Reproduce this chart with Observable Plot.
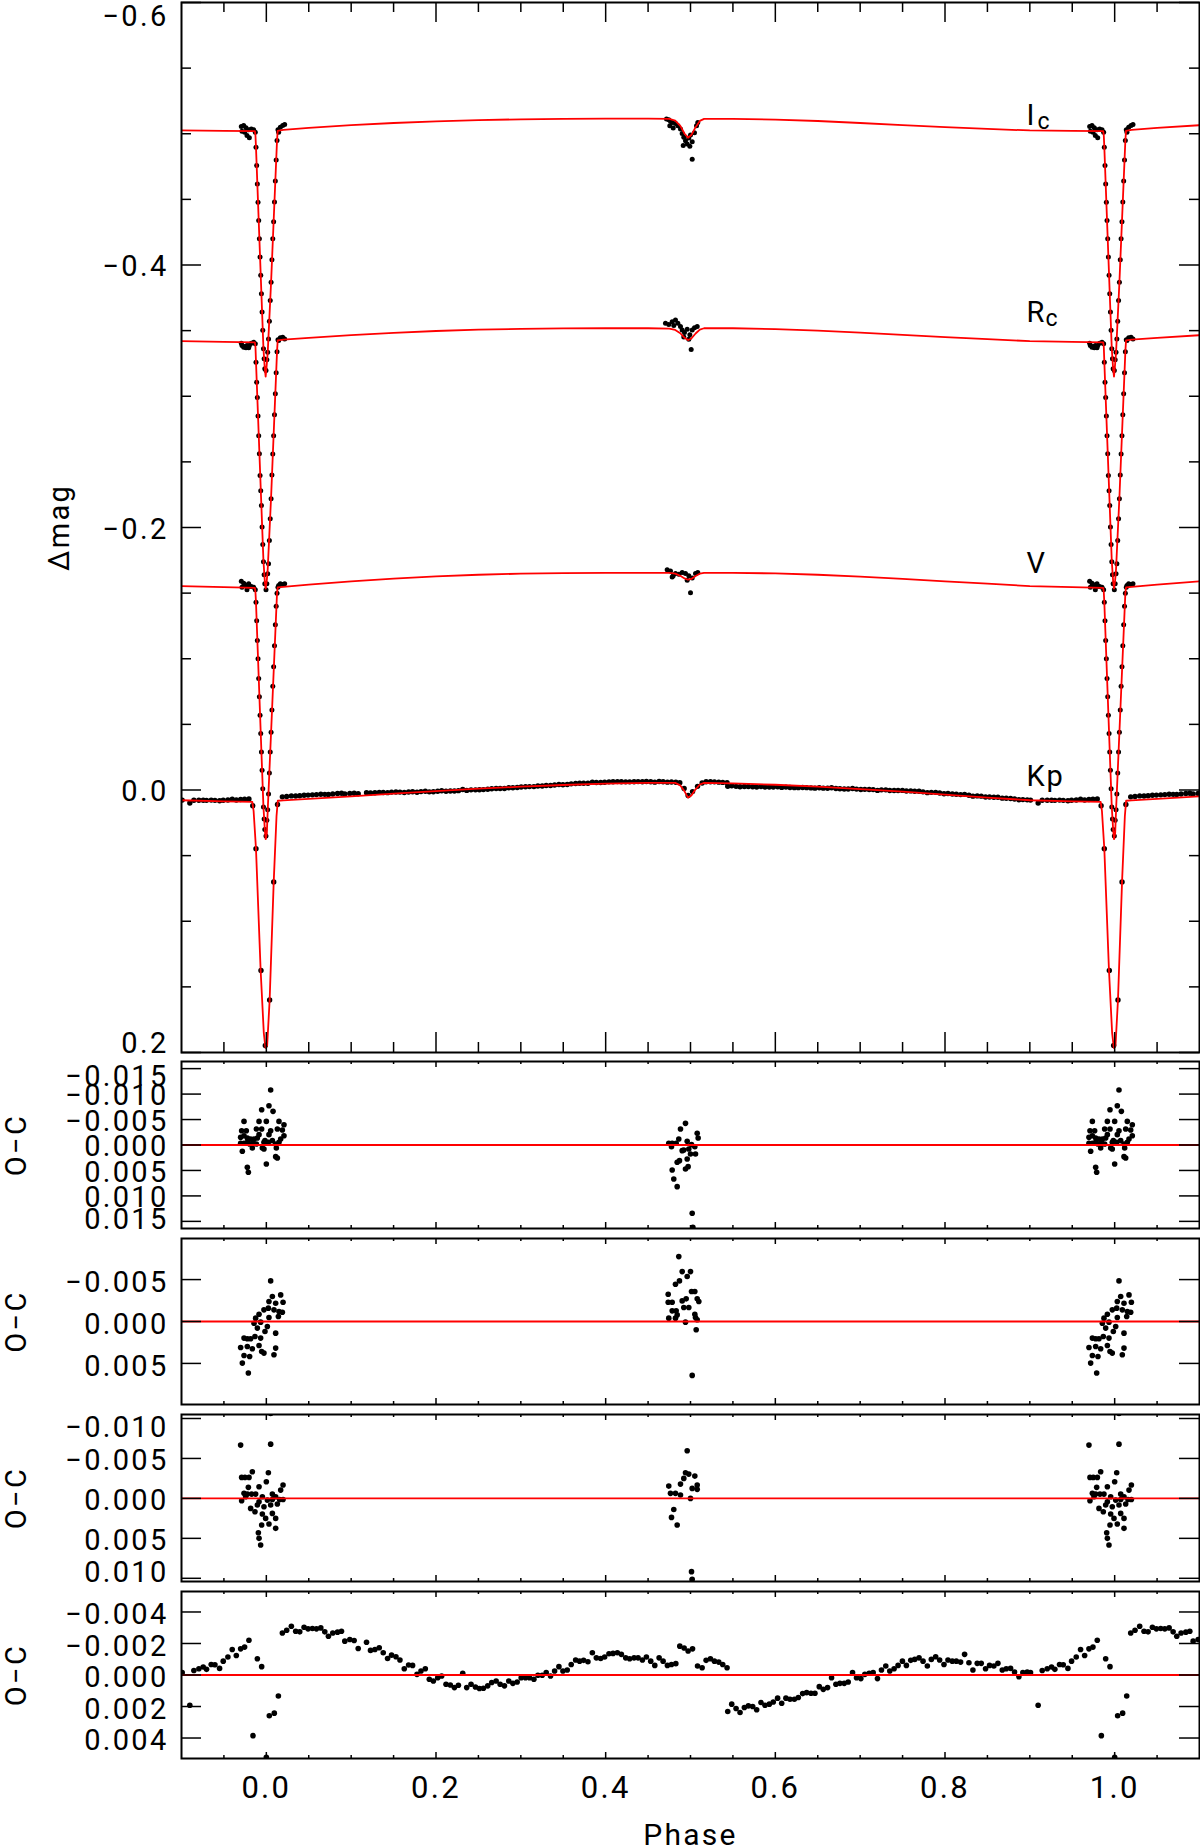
<!DOCTYPE html>
<html><head><meta charset="utf-8">
<script src="https://cdn.jsdelivr.net/npm/d3@7"></script>
<script src="https://cdn.jsdelivr.net/npm/@observablehq/plot@0.6"></script>
<style>
html,body{margin:0;padding:0;background:#fff;overflow:hidden;}
#chart{position:relative;width:1200px;height:1848px;}
#chart svg{position:absolute;left:0;}
</style></head><body><div id="chart"></div>
<script>
// ---------------- DATA ----------------
// tick values
const xMajorTicks = [0.0, 0.2, 0.4, 0.6, 0.8, 1.0];
const xMinorTicks = [-0.05, 0.05, 0.1, 0.15, 0.25, 0.3, 0.35, 0.45, 0.5, 0.55, 0.65, 0.7, 0.75, 0.85, 0.9, 0.95, 1.05];
const magMajorTicks = [-0.6, -0.4, -0.2, 0.0, 0.2];
const magMinorTicks = [-0.55, -0.5, -0.45, -0.35, -0.3, -0.25, -0.15, -0.1, -0.05, 0.05, 0.1, 0.15];
const oc1Ticks = [-0.015, -0.010, -0.005, 0.0, 0.005, 0.010, 0.015];
const oc2Ticks = [-0.005, 0.0, 0.005];
const oc3Ticks = [-0.010, -0.005, 0.0, 0.005, 0.010];
const oc4Ticks = [-0.004, -0.002, 0.0, 0.002, 0.004];
const bandNames = ["I", "R", "V", "Kp"];
const bandSubs = ["c", "c", "", ""];

// model light curves (one cycle, phase -0.1 .. 0.9)
const modelPhase = [-0.1, -0.05, -0.0135, -0.0128, -0.0122, -0.0050, -0.0034, -0.0018, -0.0008, 0.0006, 0.0016, 0.0056, 0.0126, 0.0134, 0.02, 0.05, 0.1, 0.15, 0.2, 0.25, 0.3, 0.35, 0.4, 0.45, 0.475, 0.482, 0.488, 0.493, 0.497, 0.501, 0.506, 0.511, 0.516, 0.55, 0.6, 0.65, 0.7, 0.75, 0.8, 0.85, 0.9];
const icModel = [-0.5025, -0.5022, -0.5020, -0.4985, -0.4898, -0.3642, -0.3362, -0.3210, -0.3150, -0.3250, -0.3330, -0.3869, -0.4949, -0.5022, -0.5030, -0.5045, -0.5065, -0.5082, -0.5095, -0.5104, -0.5110, -0.5113, -0.5115, -0.5115, -0.5113, -0.5100, -0.5060, -0.5000, -0.4970, -0.4990, -0.5050, -0.5098, -0.5113, -0.5113, -0.5108, -0.5097, -0.5082, -0.5065, -0.5050, -0.5037, -0.5025];
const rcModel = [-0.3420, -0.3415, -0.3410, -0.3375, -0.3265, -0.2020, -0.1745, -0.1590, -0.1535, -0.1600, -0.1680, -0.2230, -0.3340, -0.3425, -0.3432, -0.3445, -0.3465, -0.3483, -0.3497, -0.3507, -0.3513, -0.3517, -0.3518, -0.3518, -0.3516, -0.3505, -0.3480, -0.3445, -0.3428, -0.3440, -0.3478, -0.3508, -0.3518, -0.3518, -0.3512, -0.3500, -0.3485, -0.3468, -0.3450, -0.3435, -0.3420];
const vModel = [-0.1553, -0.1545, -0.1540, -0.1505, -0.1430, -0.0150, 0.0130, 0.0300, 0.0375, 0.0330, 0.0160, -0.0440, -0.1500, -0.1543, -0.1548, -0.1565, -0.1590, -0.1610, -0.1627, -0.1640, -0.1648, -0.1653, -0.1655, -0.1655, -0.1654, -0.1648, -0.1632, -0.1612, -0.1602, -0.1608, -0.1630, -0.1648, -0.1655, -0.1655, -0.1650, -0.1640, -0.1625, -0.1608, -0.1590, -0.1572, -0.1553];
const kpModelPhase = [-0.1, -0.05, -0.0165, -0.015, -0.0122, -0.0067, -0.003, -0.001, 0.001, 0.0039, 0.0087, 0.012, 0.0135, 0.02, 0.05, 0.1, 0.15, 0.2, 0.25, 0.3, 0.35, 0.4, 0.45, 0.482, 0.488, 0.493, 0.497, 0.501, 0.506, 0.511, 0.516, 0.55, 0.6, 0.65, 0.7, 0.75, 0.8, 0.85, 0.9];
const kpModel = [0.0078, 0.0087, 0.0090, 0.0160, 0.0448, 0.1375, 0.1850, 0.1965, 0.1945, 0.1600, 0.0700, 0.0200, 0.0082, 0.0079, 0.0068, 0.0048, 0.0028, 0.0008, -0.0010, -0.0025, -0.0038, -0.0048, -0.0054, -0.0054, -0.0035, 0.0010, 0.0058, 0.0042, -0.0005, -0.0042, -0.0054, -0.0050, -0.0040, -0.0025, -0.0007, 0.0012, 0.0035, 0.0058, 0.0078];

// ground-based photometry around primary eclipse (Ic, Rc, V share phases)
const eclPhase = [-0.0295, -0.0287, -0.0267, -0.0255, -0.0240, -0.0228, -0.0208, -0.0200, -0.0177, -0.0149, -0.0130, 0.0137, 0.0145, 0.0165, 0.0193, 0.0216,
  -0.0122, -0.0114, -0.0106, -0.0098, -0.0090, -0.0082, -0.0074, -0.0066, -0.0058, -0.0050, -0.0042, -0.0034, -0.0026, -0.0018,
  -0.0004, 0.0006, 0.0016, 0.0026, 0.0036, 0.0046, 0.0056, 0.0066, 0.0076, 0.0086, 0.0096, 0.0106, 0.0116, 0.0126];
const icEcl = [-0.5055, -0.5020, -0.5063, -0.5012, -0.5045, -0.4987, -0.5030, -0.4969, -0.5037, -0.5030, -0.5012, -0.5030, -0.5012, -0.5050, -0.5063, -0.5070,
  -0.4898, -0.4758, -0.4618, -0.4479, -0.4339, -0.4200, -0.4061, -0.3921, -0.3781, -0.3642, -0.3502, -0.3362, -0.3286, -0.3210,
  -0.3196, -0.3278, -0.3336, -0.3437, -0.3572, -0.3730, -0.3869, -0.4040, -0.4200, -0.4330, -0.4480, -0.4640, -0.4800, -0.4949];
const rcEcl = [-0.3404, -0.3387, -0.3374, -0.3379, -0.3369, -0.3387, -0.3369, -0.3387, -0.3404, -0.3412, -0.3400, -0.3430, -0.3425, -0.3445, -0.3450, -0.3437,
  -0.3260, -0.3107, -0.2990, -0.2850, -0.2700, -0.2561, -0.2396, -0.2280, -0.2168, -0.2003, -0.1870, -0.1740, -0.1640, -0.1571,
  -0.1525, -0.1571, -0.1647, -0.1724, -0.1901, -0.2066, -0.2220, -0.2400, -0.2560, -0.2700, -0.2860, -0.3019, -0.3180, -0.3340];
const vEcl = [-0.1591, -0.1545, -0.1576, -0.1566, -0.1558, -0.1525, -0.1571, -0.1550, -0.1550, -0.1545, -0.1525, -0.1545, -0.1558, -0.1571, -0.1566, -0.1571,
  -0.1430, -0.1290, -0.1140, -0.1000, -0.0850, -0.0710, -0.0570, -0.0430, -0.0290, -0.0150, -0.0010, 0.0130, 0.0220, 0.0300,
  0.0350, 0.0230, 0.0150, 0.0030, -0.0130, -0.0290, -0.0440, -0.0610, -0.0790, -0.0940, -0.1100, -0.1260, -0.1400, -0.1500];

// ground-based photometry around secondary eclipse
const icSecPhase = [0.4717, 0.4744, 0.4764, 0.4784, 0.4756, 0.4796, 0.4823, 0.4851, 0.4882, 0.4902, 0.4921, 0.4941, 0.4961, 0.4980, 0.5000, 0.5020, 0.5047, 0.5071, 0.5086, 0.4914, 0.4992, 0.5020];
const icSec = [-0.5113, -0.5106, -0.5096, -0.5086, -0.5061, -0.5044, -0.5078, -0.5061, -0.5036, -0.5001, -0.4974, -0.4946, -0.4921, -0.4967, -0.4991, -0.4939, -0.5008, -0.5061, -0.5086, -0.4910, -0.4904, -0.4806];
const rcSecPhase = [0.4705, 0.4744, 0.4784, 0.4823, 0.4851, 0.4882, 0.4902, 0.4929, 0.4961, 0.4992, 0.5020, 0.5047, 0.5079, 0.4921, 0.4980, 0.5008, 0.4803];
const rcSec = [-0.3557, -0.3546, -0.3567, -0.3581, -0.3557, -0.3532, -0.3504, -0.3486, -0.3511, -0.3469, -0.3504, -0.3521, -0.3532, -0.3451, -0.3434, -0.3357, -0.3539];
const vSecPhase = [0.4725, 0.4764, 0.4796, 0.4823, 0.4863, 0.4902, 0.4941, 0.4980, 0.5020, 0.5059, 0.5086, 0.4961, 0.5000, 0.4784];
const vSec = [-0.1679, -0.1668, -0.1633, -0.1650, -0.1643, -0.1657, -0.1650, -0.1633, -0.1615, -0.1650, -0.1657, -0.1598, -0.1503, -0.1622];

// Kepler points inside primary eclipse
const kpEclPhase = [-0.0160, -0.0122, -0.0063, -0.0012, 0.0039, 0.0087, 0.0132];
const kpEclMag = [0.0120, 0.0448, 0.1375, 0.1947, 0.1600, 0.0700, 0.0110];

// Kepler binned light curve: phase, O-C and magnitude (null = inside eclipse, shown above)
const kpPhase = [-0.0992, -0.0902, -0.0854, -0.0795, -0.0744, -0.0705, -0.0650, -0.0606, -0.0551, -0.0508, -0.0453, -0.0402, -0.0354, -0.0303, -0.0256, -0.0205,
  -0.0157, -0.0106, -0.0055, 0.0000, 0.0035, 0.0094, 0.0142,
  0.0189, 0.0240, 0.0295, 0.0346, 0.0394, 0.0445, 0.0492, 0.0543, 0.0591, 0.0642, 0.0689, 0.0732, 0.0783, 0.0839, 0.0886, 0.0925, 0.0984, 0.1035, 0.1083,
  0.1181, 0.1228, 0.1280, 0.1331, 0.1378, 0.1429, 0.1476, 0.1528, 0.1575, 0.1626, 0.1677, 0.1724, 0.1776, 0.1823, 0.1874, 0.1921, 0.1969,
  0.2020, 0.2067, 0.2118, 0.2169, 0.2217, 0.2264, 0.2315, 0.2362, 0.2413, 0.2465, 0.2512, 0.2559, 0.2610, 0.2657, 0.2709, 0.2756, 0.2807, 0.2858, 0.2906, 0.2957,
  0.3004, 0.3055, 0.3102, 0.3154, 0.3201, 0.3252, 0.3299, 0.3350, 0.3398, 0.3449, 0.3496, 0.3547, 0.3594, 0.3646, 0.3693, 0.3740, 0.3791, 0.3843, 0.3890, 0.3941, 0.3988,
  0.4039, 0.4087, 0.4138, 0.4185, 0.4236, 0.4283, 0.4335, 0.4382, 0.4433, 0.4480, 0.4531, 0.4579, 0.4630, 0.4677, 0.4728, 0.4776, 0.4827, 0.4874, 0.4925, 0.4972,
  0.5024, 0.5083, 0.5137, 0.5184, 0.5235, 0.5282, 0.5333, 0.5380, 0.5431, 0.5439, 0.5486, 0.5537, 0.5584, 0.5635, 0.5682, 0.5733, 0.5780, 0.5831, 0.5878, 0.5929, 0.5976,
  0.6027, 0.6075, 0.6125, 0.6173, 0.6224, 0.6271, 0.6322, 0.6369, 0.6420, 0.6467, 0.6518, 0.6565, 0.6616, 0.6663, 0.6714, 0.6761, 0.6812, 0.6859, 0.6910, 0.6957,
  0.7008, 0.7055, 0.7106, 0.7153, 0.7204, 0.7251, 0.7302, 0.7349, 0.7400, 0.7447, 0.7498, 0.7545, 0.7596, 0.7643, 0.7694, 0.7741, 0.7792, 0.7839, 0.7890, 0.7937, 0.7988,
  0.8035, 0.8086, 0.8133, 0.8184, 0.8231, 0.8282, 0.8329, 0.8380, 0.8427, 0.8478, 0.8525, 0.8576, 0.8624, 0.8675, 0.8722, 0.8773, 0.8820, 0.8871, 0.8918, 0.8969];
const kpOC = [-0.00015, 0.00192, -0.00029, -0.00040, -0.00051, -0.00036, -0.00067, -0.00065, -0.00042, -0.00088, -0.00114, -0.00162, -0.00124, -0.00166, -0.00177, -0.00221,
  0.00385, -0.00103, -0.00053, 0.00522, 0.00259, 0.00242, 0.00133,
  -0.00267, -0.00284, -0.00309, -0.00278, -0.00274, -0.00303, -0.00293, -0.00295, -0.00293, -0.00299, -0.00274, -0.00246, -0.00267, -0.00272, -0.00278, -0.00215, -0.00225, -0.00219, -0.00168,
  -0.00208, -0.00156, -0.00162, -0.00173, -0.00141, -0.00105, -0.00126, -0.00116, -0.00095, -0.00040, -0.00063, -0.00061, -0.00004, -0.00025, -0.00040, 0.00027, 0.00038,
  0.00017, 0.00006, 0.00059, 0.00063, 0.00080, 0.00065, -0.00011, 0.00080, 0.00059, 0.00076, 0.00086, 0.00084, 0.00069, 0.00048, 0.00038, 0.00059, 0.00069, 0.00038, 0.00053, 0.00044,
  0.00017, 0.00017, 0.00017, 0.00027, 0.00002, 0.00002, -0.00015, 0.00006, -0.00025, -0.00053, -0.00025, -0.00032, -0.00067, -0.00095, -0.00088, -0.00093, -0.00084, -0.00141, -0.00109, -0.00105, -0.00114,
  -0.00135, -0.00137, -0.00141, -0.00131, -0.00109, -0.00103, -0.00109, -0.00109, -0.00095, -0.00114, -0.00088, -0.00061, -0.00109, -0.00088, -0.00061, -0.00067, -0.00072, -0.00183, -0.00171, -0.00152,
  -0.00166, -0.00057, -0.00046, -0.00093, -0.00103, -0.00088, -0.00082, -0.00067, -0.00046, 0.00232, 0.00185, 0.00213, 0.00238, 0.00206, 0.00196, 0.00200, 0.00221, 0.00175, 0.00192, 0.00185, 0.00171,
  0.00147, 0.00179, 0.00147, 0.00154, 0.00154, 0.00143, 0.00118, 0.00112, 0.00116, 0.00116, 0.00074, 0.00091, 0.00080, 0.00017, 0.00059, 0.00053, 0.00053, 0.00044, -0.00015, 0.00017,
  0.00023, -0.00004, -0.00011, -0.00015, 0.00023, -0.00032, -0.00057, -0.00025, -0.00040, -0.00061, -0.00088, -0.00061, -0.00093, -0.00099, -0.00109, -0.00088, -0.00057, -0.00099, -0.00116, -0.00095, -0.00067,
  -0.00095, -0.00088, -0.00088, -0.00082, -0.00131, -0.00078, -0.00032, -0.00074, -0.00074, -0.00040, -0.00061, -0.00057, -0.00074, -0.00032, -0.00040, -0.00042, -0.00019, 0.00011, -0.00015, -0.00019];
const kpMag = [0.0077, 0.0099, 0.0078, 0.0078, 0.0078, 0.0079, 0.0077, 0.0079, 0.0082, 0.0078, 0.0076, 0.0071, 0.0076, 0.0072, 0.0071, 0.0068,
  null, null, null, null, null, null, null,
  0.0052, 0.0049, 0.0045, 0.0046, 0.0044, 0.0040, 0.0039, 0.0037, 0.0035, 0.0032, 0.0033, 0.0034, 0.0030, 0.0027, 0.0025, 0.0030, 0.0026, 0.0025, 0.0028,
  0.0020, 0.0023, 0.0021, 0.0018, 0.0019, 0.0020, 0.0016, 0.0015, 0.0016, 0.0019, 0.0015, 0.0013, 0.0017, 0.0012, 0.0009, 0.0014, 0.0013,
  0.0009, 0.0006, 0.0010, 0.0008, 0.0008, 0.0005, -0.0004, 0.0003, -0.0001, -0.0001, -0.0002, -0.0003, -0.0006, -0.0010, -0.0012, -0.0012, -0.0012, -0.0017, -0.0017, -0.0019,
  -0.0023, -0.0025, -0.0026, -0.0026, -0.0030, -0.0031, -0.0034, -0.0034, -0.0038, -0.0042, -0.0040, -0.0042, -0.0047, -0.0050, -0.0051, -0.0052, -0.0052, -0.0059, -0.0057, -0.0057, -0.0059,
  -0.0062, -0.0063, -0.0064, -0.0063, -0.0062, -0.0062, -0.0063, -0.0064, -0.0063, -0.0065, -0.0063, -0.0060, -0.0065, -0.0063, -0.0060, -0.0061, -0.0059, -0.0055, -0.0011, 0.0042,
  0.0012, -0.0028, -0.0053, -0.0063, -0.0063, -0.0062, -0.0060, -0.0058, -0.0056, -0.0028, -0.0032, -0.0028, -0.0025, -0.0027, -0.0027, -0.0025, -0.0022, -0.0026, -0.0023, -0.0023, -0.0023,
  -0.0024, -0.0020, -0.0022, -0.0019, -0.0018, -0.0018, -0.0019, -0.0018, -0.0016, -0.0014, -0.0017, -0.0014, -0.0013, -0.0017, -0.0011, -0.0010, -0.0008, -0.0008, -0.0012, -0.0007,
  -0.0004, -0.0005, -0.0004, -0.0003, 0.0003, -0.0001, -0.0001, 0.0004, 0.0004, 0.0004, 0.0003, 0.0008, 0.0007, 0.0009, 0.0010, 0.0014, 0.0020, 0.0018, 0.0018, 0.0023, 0.0028,
  0.0027, 0.0030, 0.0032, 0.0035, 0.0033, 0.0040, 0.0047, 0.0045, 0.0047, 0.0053, 0.0053, 0.0055, 0.0055, 0.0062, 0.0063, 0.0065, 0.0069, 0.0074, 0.0073, 0.0075];

// O-C residuals of the ground-based bands
const icOCPhase = [0.0051, -0.0055, 0.0031, 0.0079, -0.0263, -0.0086, 0.0000, 0.0149, 0.0208, -0.0291, -0.0236, -0.0118, -0.0055, 0.0051, 0.0130, 0.0189, -0.0303, -0.0263, -0.0224, -0.0185, -0.0145, -0.0106, -0.0016, 0.0071, 0.0169, 0.0208, -0.0303, -0.0263, -0.0224, -0.0197, -0.0157, -0.0118, -0.0028, 0.0024, 0.0110, 0.0149, -0.0283, -0.0165, -0.0028, 0.0118, 0.0110, 0.0130, 0.0000, -0.0224, -0.0212, -0.0047, -0.0086, 0.0031,
  0.4941, 0.4882, 0.4862, 0.4961, 0.5079, 0.5090, 0.4744, 0.4784, 0.4831, 0.4776, 0.4902, 0.4980, 0.5012, 0.5051, 0.5059, 0.5000, 0.4870, 0.4843, 0.4941, 0.4972, 0.4784, 0.4803, 0.4843, 0.5020, 0.5028, 0.4921, 0.4961];
const icOC = [-0.01079, -0.00693, -0.00772, -0.00661, -0.00464, -0.00464, -0.00464, -0.00464, -0.00399, -0.00281, -0.00281, -0.00314, -0.00314, -0.00281, -0.00314, -0.00294, -0.00150, -0.00183, -0.00137, -0.00118, -0.00118, -0.00137, -0.00085, -0.00085, -0.00118, -0.00183, -0.00033, -0.00033, -0.00052, -0.00020, -0.00052, -0.00020, -0.00052, -0.00052, -0.00020, -0.00052, 0.00124, 0.00059, 0.00078, 0.00059, 0.00229, 0.00255, 0.00373, 0.00438, 0.00536, 0.00059, -0.00203, -0.00203,
  -0.00425, -0.00314, -0.00118, -0.00072, -0.00229, -0.00137, -0.00033, -0.00033, -0.00033, 0.00033, 0.00111, 0.00078, -0.00007, 0.00033, 0.00177, 0.00177, 0.00307, 0.00340, 0.00471, 0.00425, 0.00491, 0.00667, 0.00818, 0.01341, 0.01615, 0.00098, 0.00275];
const rcOCPhase = [0.0051, 0.0071, 0.0169, 0.0031, 0.0110, 0.0197, -0.0086, -0.0028, 0.0024, 0.0090, 0.0149, 0.0189, -0.0126, -0.0145, -0.0067, 0.0012, -0.0106, -0.0016, 0.0110, -0.0263, -0.0224, -0.0185, -0.0134, -0.0067, -0.0303, -0.0224, -0.0165, -0.0086, -0.0055, -0.0028, 0.0110, 0.0090, -0.0263, -0.0197, -0.0283, -0.0212, 0.0031, 0.0142,
  0.4862, 0.4902, 0.5000, 0.4961, 0.4870, 0.4823, 0.4737, 0.4737, 0.4784, 0.5012, 0.5051, 0.5079, 0.5098, 0.4902, 0.4949, 0.4831, 0.4784, 0.4744, 0.4823, 0.4843, 0.4921, 0.4980, 0.5059, 0.5051, 0.4941, 0.5067, 0.5020, 0.5079];
const rcOC = [-0.00484, -0.00298, -0.00317, -0.00238, -0.00218, -0.00230, -0.00087, -0.00139, -0.00159, -0.00139, -0.00119, -0.00111, -0.00040, 0.00020, 0.00008, 0.00060, 0.00079, 0.00119, 0.00139, 0.00198, 0.00206, 0.00206, 0.00179, 0.00198, 0.00310, 0.00298, 0.00325, 0.00286, 0.00357, 0.00377, 0.00317, 0.00397, 0.00405, 0.00417, 0.00496, 0.00615, -0.00048, -0.00060,
  -0.00774, -0.00595, -0.00595, -0.00536, -0.00484, -0.00444, -0.00325, -0.00230, -0.00230, -0.00357, -0.00357, -0.00270, -0.00238, -0.00246, -0.00270, -0.00127, -0.00127, -0.00040, -0.00040, -0.00079, -0.00167, -0.00167, -0.00048, -0.00087, 0.00008, 0.00099, 0.00643, -0.00020];
const vOCPhase = [0.0051, -0.0303, 0.0051, -0.0165, -0.0291, -0.0252, -0.0204, 0.0024, -0.0212, -0.0086, 0.0000, 0.0197, 0.0169, -0.0263, -0.0224, -0.0173, -0.0126, -0.0047, 0.0071, 0.0110, 0.0157, 0.0197, -0.0291, -0.0086, 0.0012, 0.0071, -0.0185, -0.0106, -0.0028, 0.0051, 0.0130, -0.0134, -0.0047, -0.0008, 0.0071, 0.0110, 0.0031, -0.0055, 0.0110, -0.0094, -0.0086, -0.0067, -0.0244,
  0.4961, 0.4941, 0.4980, 0.5051, 0.4921, 0.4744, 0.5079, 0.5020, 0.4882, 0.4764, 0.4823, 0.4882, 0.5079, 0.5000, 0.4803, 0.4776, 0.4843, 0.5012, 0.5020];
const vOC = [-0.01063, -0.00667, -0.00679, -0.00333, -0.00263, -0.00263, -0.00263, -0.00321, -0.00138, -0.00146, -0.00208, -0.00167, -0.00104, -0.00063, -0.00054, -0.00054, -0.00054, -0.00021, -0.00054, -0.00021, 0.00013, 0.00013, 0.00029, 0.00042, 0.00021, 0.00013, 0.00125, 0.00083, 0.00104, 0.00083, 0.00071, 0.00167, 0.00196, 0.00250, 0.00188, 0.00250, 0.00321, 0.00333, 0.00375, 0.00429, 0.00500, 0.00583, -0.00021,
  -0.00596, -0.00321, -0.00304, -0.00279, -0.00250, -0.00154, -0.00167, -0.00125, -0.00179, -0.00063, -0.00063, -0.00042, -0.00113, 0.00000, 0.00138, 0.00238, 0.00333, 0.00917, 0.01013];

// ---------------- TABLES (phase-folded: each cycle drawn again one phase later) ----------------
function fold(phases, values) {
  const t = [];
  phases.forEach((p, i) => { if (values[i] != null) t.push({phase: p, value: values[i]}); });
  return t.concat(t.map(d => ({phase: d.phase + 1, value: d.value})));
}
const icModelT = fold(modelPhase, icModel), rcModelT = fold(modelPhase, rcModel), vModelT = fold(modelPhase, vModel), kpModelT = fold(kpModelPhase, kpModel);
const groundT = [].concat(fold(eclPhase, icEcl), fold(eclPhase, rcEcl), fold(eclPhase, vEcl), fold(icSecPhase, icSec), fold(rcSecPhase, rcSec), fold(vSecPhase, vSec));
const kpT = [].concat(fold(kpPhase, kpMag), fold(kpEclPhase, kpEclMag));
const oc1T = fold(icOCPhase, icOC), oc2T = fold(rcOCPhase, rcOC), oc3T = fold(vOCPhase, vOC), oc4T = fold(kpPhase, kpOC);

// ---------------- LAYOUT ----------------
const W = 1200, ML = 181, MR = 1, FW = W - ML - MR;
const FONT = "Roboto, 'Liberation Sans', Arial, sans-serif";
const fmt1 = d3.format(".1f"), fmt3 = d3.format(".3f");
const RED = "#ff0000";
const chart = document.getElementById("chart");

function panel({top, bottom, yDomain, yMajor, yMinor = [], yFmt, yAdj, xMajLen, xMinLen, marks, extra = [], mt = 9, mb = 9}) {
  const fh = bottom - top;
  const tickStyle = {stroke: "black", strokeWidth: 1.5};
  const labelMarks = yMajor.map(t => Plot.text([t], {
    y: d => d, frameAnchor: "left", textAnchor: "end", dx: -13, dy: yAdj(t),
    text: d => yFmt(d), fontSize: 29
  }));
  const svg = Plot.plot({
    width: W, height: fh + mt + mb,
    marginLeft: ML, marginRight: MR, marginTop: mt, marginBottom: mb,
    x: {domain: [-0.1, 1.1], axis: null},
    y: {domain: yDomain, reverse: true, axis: null},
    style: `background:transparent;overflow:visible;font-family:${FONT};font-weight:400;letter-spacing:2.3px;color:black;`,
    marks: [
      ...marks,
      Plot.ruleX(xMajorTicks, {insetBottom: fh - xMajLen, ...tickStyle}),
      Plot.ruleX(xMajorTicks, {insetTop: fh - xMajLen, ...tickStyle}),
      Plot.ruleX(xMinorTicks, {insetBottom: fh - xMinLen, ...tickStyle}),
      Plot.ruleX(xMinorTicks, {insetTop: fh - xMinLen, ...tickStyle}),
      Plot.ruleY(yMajor, {insetRight: FW - 20, ...tickStyle}),
      Plot.ruleY(yMajor, {insetLeft: FW - 20, ...tickStyle}),
      Plot.ruleY(yMinor, {insetRight: FW - 10, ...tickStyle}),
      Plot.ruleY(yMinor, {insetLeft: FW - 10, ...tickStyle}),
      Plot.frame({stroke: "black", strokeWidth: 2}),
      ...labelMarks,
      ...extra
    ]
  });
  svg.style.top = (top - mt) + "px";
  chart.appendChild(svg);
}

// main light-curve panel
const bandLabelMag = [-0.5070, -0.3562, -0.1657, -0.0034];
const subDx = [11, 19, 0, 0];
panel({
  top: 2, bottom: 1052, mt: 2, mb: 10,
  yDomain: [-0.6, 0.2], yMajor: magMajorTicks, yMinor: magMinorTicks, yFmt: fmt1,
  yAdj: t => t === -0.6 ? 14 : t === 0.2 ? -9 : 2,
  xMajLen: 20, xMinLen: 10,
  marks: [
    Plot.dot(kpT, {x: "phase", y: "value", r: 2.7, fill: "black", clip: true}),
    Plot.dot(groundT, {x: "phase", y: "value", r: 2.5, fill: "black", clip: true}),
    Plot.line(icModelT, {x: "phase", y: "value", stroke: RED, strokeWidth: 1.8, clip: true}),
    Plot.line(rcModelT, {x: "phase", y: "value", stroke: RED, strokeWidth: 1.8, clip: true}),
    Plot.line(vModelT, {x: "phase", y: "value", stroke: RED, strokeWidth: 1.8, clip: true}),
    Plot.line(kpModelT, {x: "phase", y: "value", stroke: RED, strokeWidth: 1.8, clip: true})
  ],
  extra: [
    ...bandNames.map((name, i) => Plot.text([name], {x: 0.896, y: bandLabelMag[i], text: d => d, textAnchor: "start", lineAnchor: "bottom", fontSize: 29})),
    ...bandSubs.map((s, i) => Plot.text([s], {x: 0.896, y: bandLabelMag[i], text: d => d, textAnchor: "start", lineAnchor: "bottom", dx: subDx[i], dy: 4, fontSize: 23})),
    Plot.text(["Δmag"], {frameAnchor: "left", textAnchor: "middle", dx: -122, rotate: -90, text: d => d, fontSize: 29})
  ]
});

function ocPanel(top, bottom, yDomain, ticks, table, yAdj, opts = {}) {
  panel({
    top, bottom, yDomain, yMajor: ticks, yFmt: fmt3, yAdj,
    xMajLen: 6, xMinLen: 3,
    marks: [
      Plot.dot(table, {x: "phase", y: "value", r: 2.8, fill: "black", clip: true}),
      Plot.ruleY([0], {stroke: RED, strokeWidth: 1.8})
    ],
    extra: [
      Plot.text(["O−C"], {frameAnchor: "left", textAnchor: "middle", dx: -165, rotate: -90, text: d => d, fontSize: 29}),
      ...(opts.extra || [])
    ],
    mb: opts.mb || 9
  });
}
ocPanel(1061, 1228, [-0.0164, 0.0164], oc1Ticks, oc1T, t => t === -0.015 ? 8 : t === 0.015 ? -2 : 2);
ocPanel(1238, 1404, [-0.0099, 0.0099], oc2Ticks, oc2T, t => 3);
ocPanel(1414, 1581, [-0.0105, 0.0104], oc3Ticks, oc3T, t => t === -0.010 ? 9 : t === 0.010 ? -6 : 2);
ocPanel(1591, 1758, [-0.0053, 0.0053], oc4Ticks, oc4T, t => 3, {
  mb: 90,
  extra: [
    Plot.text(xMajorTicks, {x: d => d, frameAnchor: "bottom", dy: 39, text: d => fmt1(d), fontSize: 31}),
    Plot.text(["Phase"], {frameAnchor: "bottom", dy: 86, text: d => d, fontSize: 30})
  ]
});
</script></body></html>
